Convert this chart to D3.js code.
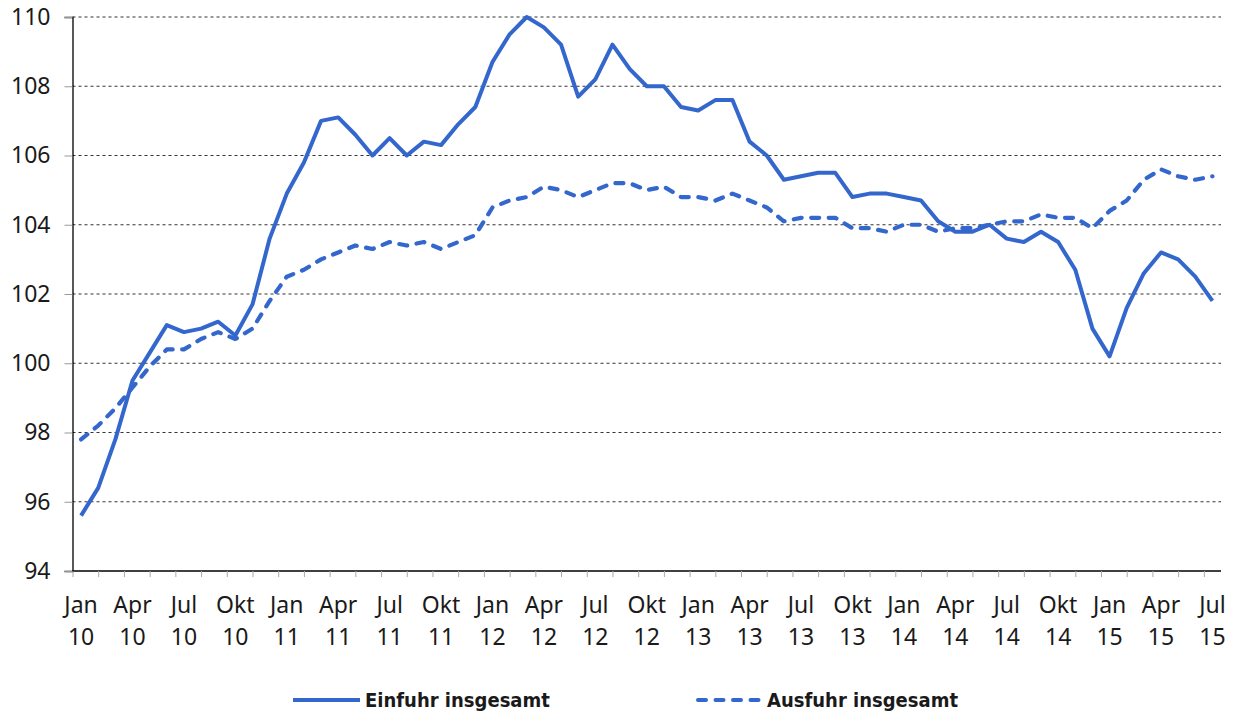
<!DOCTYPE html>
<html>
<head>
<meta charset="utf-8">
<script src="https://cdn.jsdelivr.net/npm/d3@7"></script>
<style>
  body { margin: 0; background: #fff; }
  .axis-label { font-family: "Noto Sans", sans-serif; font-size: 23px; fill: #1a1a1a; }
  .legend-text { font-family: "DejaVu Sans Condensed", "DejaVu Sans", sans-serif; font-stretch: condensed; font-weight: bold; font-size: 20px; fill: #1a1a1a; }
</style>
</head>
<body>
<div class="chart"></div>
<script>
const width = 1235
const height = 716
const margin = {top: 17, right: 14, bottom: 145, left: 72.5}

// months Jan 2010 .. Jul 2015
const monthNames = ['Jan', 'Feb', 'Mär', 'Apr', 'Mai', 'Jun', 'Jul', 'Aug', 'Sep', 'Okt', 'Nov', 'Dez']
const years = ['10', '11', '12', '13', '14', '15']
const nMonths = 67

const einfuhr = [
  95.6, 96.4, 97.8, 99.5, 100.3, 101.1, 100.9, 101.0, 101.2, 100.8, 101.7, 103.6,
  104.9, 105.8, 107.0, 107.1, 106.6, 106.0, 106.5, 106.0, 106.4, 106.3, 106.9, 107.4,
  108.7, 109.5, 110.0, 109.7, 109.2, 107.7, 108.2, 109.2, 108.5, 108.0, 108.0, 107.4,
  107.3, 107.6, 107.6, 106.4, 106.0, 105.3, 105.4, 105.5, 105.5, 104.8, 104.9, 104.9,
  104.8, 104.7, 104.1, 103.8, 103.8, 104.0, 103.6, 103.5, 103.8, 103.5, 102.7, 101.0,
  100.2, 101.6, 102.6, 103.2, 103.0, 102.5, 101.8
]

const ausfuhr = [
  97.8, 98.2, 98.7, 99.3, 99.9, 100.4, 100.4, 100.7, 100.9, 100.7, 101.0, 101.8,
  102.5, 102.7, 103.0, 103.2, 103.4, 103.3, 103.5, 103.4, 103.5, 103.3, 103.5, 103.7,
  104.5, 104.7, 104.8, 105.1, 105.0, 104.8, 105.0, 105.2, 105.2, 105.0, 105.1, 104.8,
  104.8, 104.7, 104.9, 104.7, 104.5, 104.1, 104.2, 104.2, 104.2, 103.9, 103.9, 103.8,
  104.0, 104.0, 103.8, 103.9, 103.9, 104.0, 104.1, 104.1, 104.3, 104.2, 104.2, 103.9,
  104.4, 104.7, 105.3, 105.6, 105.4, 105.3, 105.4
]

const yTicks = [94, 96, 98, 100, 102, 104, 106, 108, 110]
const seriesNames = ['Einfuhr insgesamt', 'Ausfuhr insgesamt']

const categories = d3.range(nMonths).map(i => ({
  month: monthNames[i % 12],
  year: years[Math.floor(i / 12)]
}))

const lineColor = '#3467cd'

const svg = d3.select('.chart')
  .append('svg')
  .attr('width', width)
  .attr('height', height)

const x = d3.scaleLinear()
  .domain([-0.5, nMonths - 0.5])
  .range([margin.left, width - margin.right])

const y = d3.scaleLinear()
  .domain([94, 110])
  .range([height - margin.bottom, margin.top])

// gridlines
svg.append('g')
  .selectAll('line.grid')
  .data(yTicks.filter(d => d > 94))
  .enter().append('line')
    .attr('class', 'grid')
    .attr('x1', margin.left)
    .attr('x2', width - margin.right)
    .attr('y1', d => y(d))
    .attr('y2', d => y(d))
    .attr('stroke', '#333')
    .attr('stroke-width', 1)
    .style('stroke-dasharray', '3,3')

// y axis
const yAxis = svg.append('g')
  .attr('transform', `translate(${margin.left},0)`)
  .call(d3.axisLeft(y).tickValues(yTicks).tickSize(8).tickPadding(14).tickFormat(d3.format('d')))

yAxis.select('.domain').attr('stroke', '#000').attr('stroke-width', 1.3)
yAxis.selectAll('.tick line').attr('stroke', '#999')
yAxis.selectAll('.tick text')
  .attr('class', 'axis-label')
  .attr('font-family', null)
  .attr('font-size', null)
  .attr('fill', null)

// x axis: ticks every 1.5 months along category borders
const xTickVals = d3.range(0, 45).map(k => -0.5 + k * 1.5)
const xAxis = svg.append('g')
  .attr('transform', `translate(0,${y(94)})`)
  .call(d3.axisBottom(x).tickValues(xTickVals).tickSize(6).tickFormat(''))

xAxis.select('.domain').attr('stroke', '#000').attr('stroke-width', 1.3).attr('d', `M${x(-0.5)},0H${x(nMonths - 0.5)}`)
xAxis.selectAll('.tick line').attr('stroke', '#aaa')

const labels = svg.append('g')
  .selectAll('g.xlabel')
  .data(categories.map((d, i) => ({...d, i})).filter(d => d.i % 3 === 0))
  .enter().append('g')
    .attr('class', 'xlabel')
    .attr('transform', d => `translate(${x(d.i)},0)`)

labels.append('text')
  .attr('class', 'axis-label')
  .attr('text-anchor', 'middle')
  .attr('y', 613)
  .text(d => d.month)

labels.append('text')
  .attr('class', 'axis-label')
  .attr('text-anchor', 'middle')
  .attr('y', 645)
  .text(d => d.year)

// lines
const line = d3.line()
  .x((d, i) => x(i))
  .y(d => y(d))

svg.append('path')
  .datum(einfuhr)
  .attr('d', line)
  .attr('fill', 'none')
  .attr('stroke', lineColor)
  .attr('stroke-width', 4)
  .attr('stroke-linejoin', 'round')

svg.append('path')
  .datum(ausfuhr)
  .attr('d', line)
  .attr('fill', 'none')
  .attr('stroke', lineColor)
  .attr('stroke-width', 4.2)
  .attr('stroke-linecap', 'round')
  .attr('stroke-linejoin', 'round')
  .style('stroke-dasharray', '8,9.5')

// legend
const legendY = 700
const legendItems = [
  {name: seriesNames[0], x1: 293, x2: 360, dash: null},
  {name: seriesNames[1], x1: 698, x2: 762, dash: '8,9.5'}
]

const legend = svg.append('g').attr('class', 'legend')

legend.selectAll('line')
  .data(legendItems)
  .enter().append('line')
    .attr('x1', d => d.x1)
    .attr('x2', d => d.x2)
    .attr('y1', legendY)
    .attr('y2', legendY)
    .attr('stroke', lineColor)
    .attr('stroke-width', 4)
    .attr('stroke-linecap', d => d.dash ? 'round' : 'butt')
    .style('stroke-dasharray', d => d.dash)

legend.selectAll('text')
  .data(legendItems)
  .enter().append('text')
    .attr('class', 'legend-text')
    .attr('x', d => d.x2 + 5)
    .attr('y', legendY + 7)
    .text(d => d.name)
</script>
</body>
</html>
